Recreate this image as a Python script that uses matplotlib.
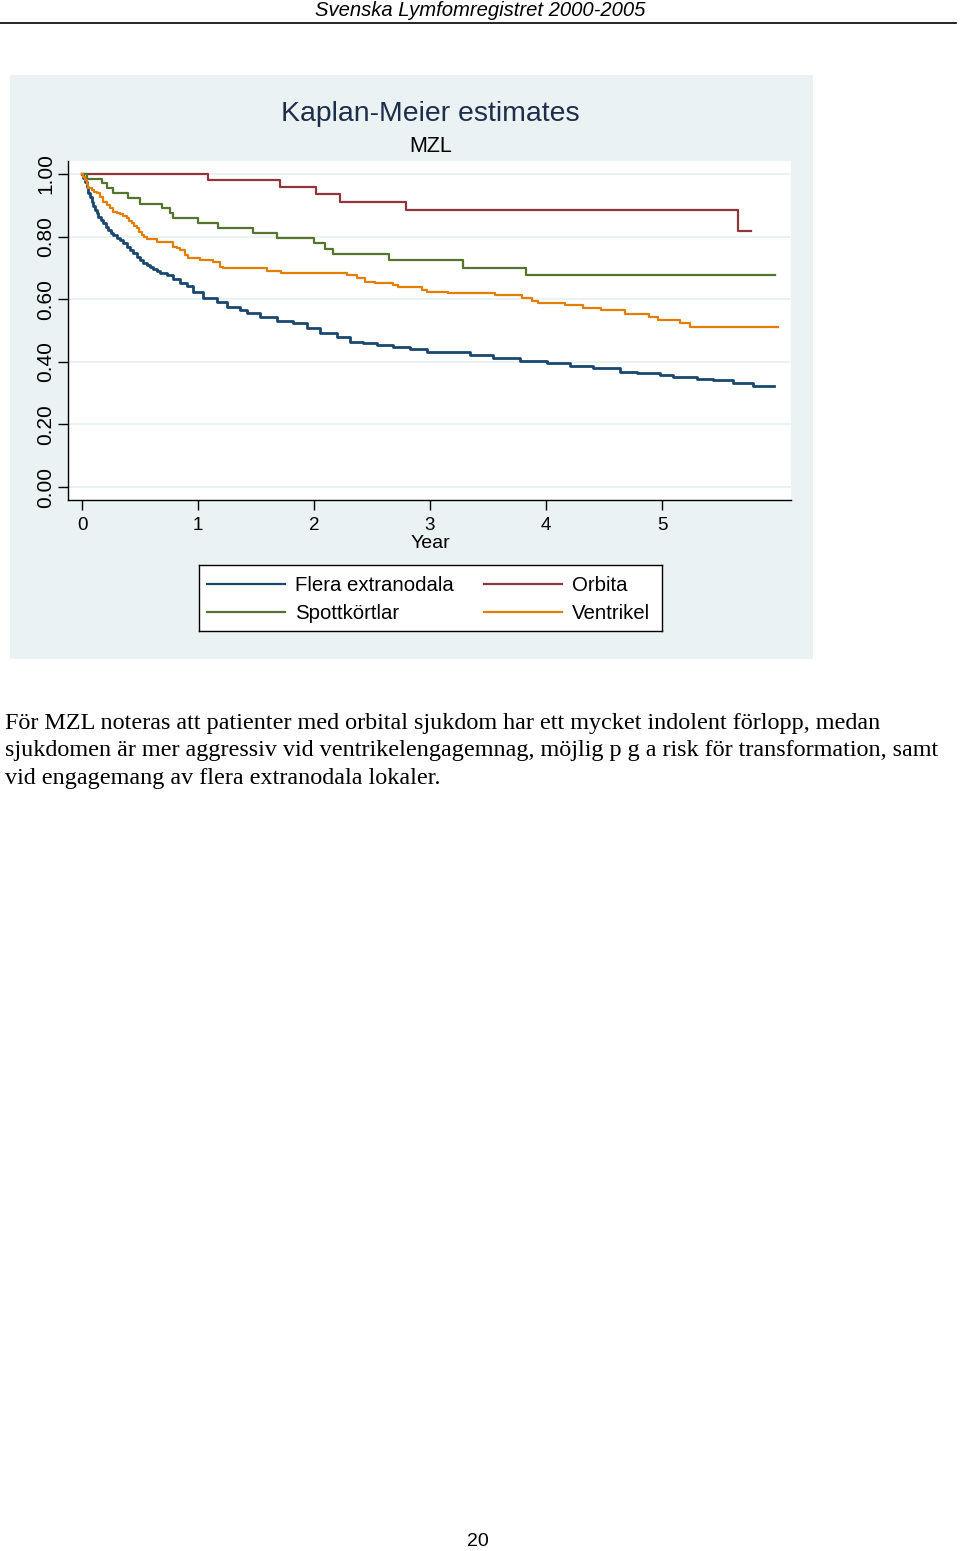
import matplotlib.pyplot as plt
from matplotlib.patches import Rectangle
from matplotlib.lines import Line2D

# Kaplan-Meier step data (years, survival)
flera_t = [0, 0.012, 0.026, 0.040, 0.054, 0.069, 0.084, 0.098, 0.112, 0.127, 0.141,
           0.163, 0.184, 0.206, 0.227, 0.249, 0.27, 0.299, 0.328, 0.356, 0.385,
           0.414, 0.442, 0.471, 0.5, 0.529, 0.558, 0.587, 0.615, 0.644, 0.672,
           0.730, 0.784, 0.845, 0.903, 0.959,
           1.046, 1.161, 1.247, 1.362, 1.420, 1.534, 1.678, 1.822, 1.937, 2.052,
           2.196, 2.310, 2.425, 2.541, 2.684, 2.828, 2.972, 3.144, 3.345, 3.546,
           3.776, 4.006, 4.207, 4.408, 4.638, 4.782, 4.983, 5.097, 5.299, 5.442,
           5.615, 5.787, 5.966]
flera_s = [1.0, 0.987, 0.975, 0.958, 0.938, 0.925, 0.912, 0.898, 0.885, 0.874, 0.864,
           0.853, 0.842, 0.831, 0.821, 0.813, 0.805, 0.797, 0.789, 0.778, 0.768,
           0.757, 0.747, 0.736, 0.725, 0.717, 0.709, 0.703, 0.696, 0.690, 0.683,
           0.676, 0.665, 0.653, 0.642, 0.624,
           0.603, 0.592, 0.576, 0.565, 0.555, 0.544, 0.531, 0.523, 0.507, 0.491,
           0.478, 0.464, 0.459, 0.454, 0.446, 0.441, 0.432, 0.430, 0.422, 0.411,
           0.404, 0.395, 0.388, 0.379, 0.368, 0.363, 0.358, 0.350, 0.345, 0.342,
           0.331, 0.323, 0.323]

orbita_t = [0, 1.086, 1.707, 2.017, 2.224, 2.79, 5.655, 5.77]
orbita_s = [1.0, 0.981, 0.958, 0.936, 0.911, 0.885, 0.817, 0.817]

spott_t = [0, 0.04, 0.175, 0.213, 0.27, 0.399, 0.5, 0.687, 0.759, 0.787, 1.003,
           1.175, 1.477, 1.678, 2.0, 2.095, 2.166, 2.649, 3.282, 3.828, 5.974]
spott_s = [1.0, 0.985, 0.970, 0.954, 0.938, 0.922, 0.904, 0.890, 0.874, 0.858, 0.842,
           0.828, 0.811, 0.795, 0.779, 0.760, 0.744, 0.724, 0.701, 0.677, 0.677]

ventr_t = [0, 0.012, 0.026, 0.040, 0.054, 0.084, 0.106, 0.127, 0.155, 0.184, 0.212,
           0.241, 0.27, 0.299, 0.328, 0.356, 0.385, 0.406,
           0.428, 0.45, 0.472, 0.494, 0.515, 0.537, 0.558, 0.644, 0.787, 0.816, 0.845,
           0.888, 0.916, 1.017,
           1.132, 1.19, 1.218, 1.592, 1.716, 2.282, 2.368, 2.44, 2.526, 2.684,
           2.727, 2.928, 2.972, 3.158, 3.56, 3.791, 3.877, 3.934, 4.164, 4.322,
           4.474, 4.681, 4.888, 4.968, 5.155, 5.241, 6.003]
ventr_s = [1.0, 0.990, 0.981, 0.968, 0.954, 0.949, 0.943, 0.938, 0.927, 0.912, 0.900,
           0.890, 0.880, 0.876, 0.871, 0.865, 0.858, 0.850,
           0.842, 0.835, 0.827, 0.816, 0.805, 0.798, 0.792, 0.782, 0.768, 0.762, 0.757,
           0.741, 0.731, 0.725,
           0.720, 0.704, 0.699, 0.690, 0.683, 0.677, 0.667, 0.656, 0.651, 0.645,
           0.640, 0.629, 0.624, 0.619, 0.613, 0.603, 0.594, 0.588, 0.581, 0.572,
           0.565, 0.554, 0.543, 0.534, 0.523, 0.510, 0.510]

xticks = [0, 1, 2, 3, 4, 5]
yticks = [0.0, 0.2, 0.4, 0.6, 0.8, 1.0]
ytick_labels = ["0.00", "0.20", "0.40", "0.60", "0.80", "1.00"]

navy = "#1a476f"
maroon = "#90353b"
green = "#55752f"
orange = "#e37e00"
bg = "#eaf2f3"

W, H = 960, 1551


def fx(px):
    return px / W


def fy(py):
    return 1 - py / H


plt.rcParams['font.family'] = ['Liberation Sans', 'DejaVu Sans']

fig = plt.figure(figsize=(9.6, 15.51), dpi=100)
fig.patch.set_facecolor("white")

# header
fig.text(fx(480), fy(11), "Svenska Lymfomregistret 2000-2005", ha="center", va="center",
         fontsize=14.6, style="italic")
fig.add_artist(Line2D([fx(0), fx(956)], [fy(23), fy(23)], color="black", lw=1.2))

# graph region background
fig.add_artist(Rectangle((fx(10), fy(659)), (813 - 10) / W, (659 - 75) / H,
                         facecolor=bg, edgecolor="none", zorder=0))

ax = fig.add_axes([fx(68), fy(500), (791 - 68) / W, (500 - 161) / H])
ax.set_facecolor("white")
ax.set_xlim(-0.1207, 6.112)
ax.set_ylim(-0.0415, 1.0415)
for sp in ["top", "right"]:
    ax.spines[sp].set_visible(False)
for sp in ["left", "bottom"]:
    ax.spines[sp].set_linewidth(1.0)

ax.set_yticks(yticks)
ax.set_yticklabels(ytick_labels, rotation=90, va="center", fontsize=15)
ax.set_xticks(xticks)
ax.set_xticklabels([str(t) for t in xticks], fontsize=13.5)
ax.tick_params(axis="both", direction="out", length=7, width=1.0, pad=5)
ax.tick_params(axis="y", pad=2)
ax.grid(axis="y", color=bg, lw=1.5)
ax.set_axisbelow(True)

ax.step(flera_t, flera_s, where="post", color=navy, lw=2.0)
ax.step(orbita_t, orbita_s, where="post", color=maroon, lw=1.6)
ax.step(spott_t, spott_s, where="post", color=green, lw=1.6)
ax.step(ventr_t, ventr_s, where="post", color=orange, lw=1.6)

fig.text(fx(430), fy(114), "Kaplan-Meier estimates", ha="center", va="center",
         fontsize=20.4, color="#1e2d4a")
fig.text(fx(431), fy(147), "MZL", ha="center", va="center", fontsize=15.5)
fig.text(fx(430), fy(544), "Year", ha="center", va="center", fontsize=14)

# legend box
lg = fig.add_axes([fx(199), fy(631), (662 - 199) / W, (631 - 565) / H])
lg.set_xlim(199, 662)
lg.set_ylim(631, 565)
lg.set_facecolor("white")
for sp in lg.spines.values():
    sp.set_linewidth(1.0)
lg.set_xticks([])
lg.set_yticks([])
legend_names = ["Flera extranodala", "Orbita", "Spottkörtlar", "Ventrikel"]
legend_colors = [navy, maroon, green, orange]
legend_x = [207, 484, 207, 484]
legend_y = [584, 584, 612, 612]
for name, col, x0, y0 in zip(legend_names, legend_colors, legend_x, legend_y):
    lg.plot([x0, x0 + 78], [y0, y0], color=col, lw=1.6)
    lg.text(x0 + 88, y0 + 1, name, ha="left", va="center", fontsize=14.7)

# body text
body = ["För MZL noteras att patienter med orbital sjukdom har ett mycket indolent förlopp, medan",
        "sjukdomen är mer aggressiv vid ventrikelengagemnag, möjlig p g a risk för transformation, samt",
        "vid engagemang av flera extranodala lokaler."]
for i, line in enumerate(body):
    fig.text(fx(5), fy(723 + 28 * i), line, ha="left", va="center", fontsize=17.4,
             family=["Liberation Serif", "DejaVu Serif"])

fig.text(fx(478), fy(1542), "20", ha="center", va="center", fontsize=14)

fig.savefig("out.png", dpi=100)
